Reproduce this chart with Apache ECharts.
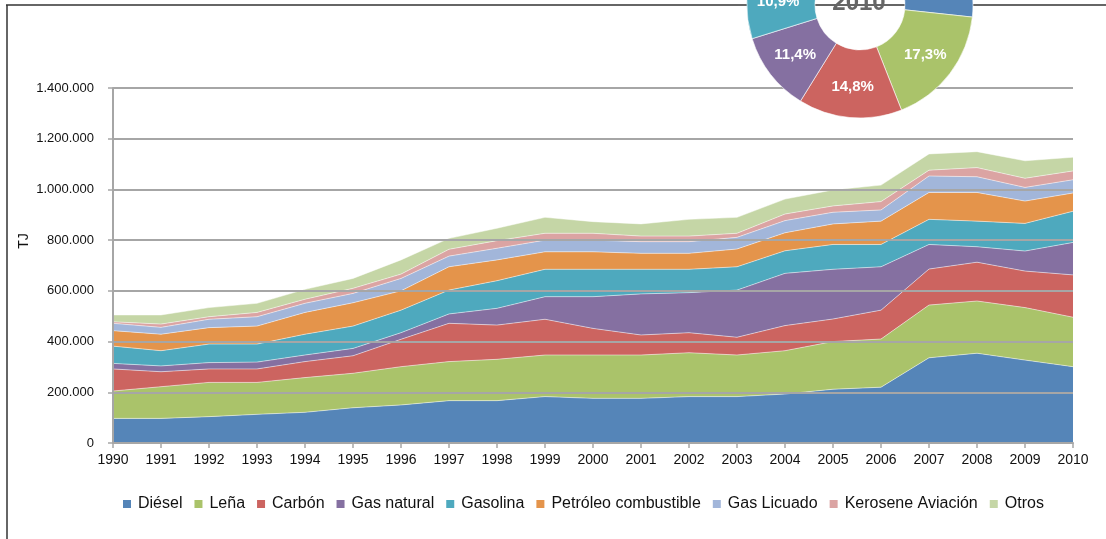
<!DOCTYPE html>
<html>
<head>
<meta charset="utf-8">
<script src="https://cdn.jsdelivr.net/npm/echarts@6/dist/echarts.min.js"></script>
<style>
    html, body { margin: 0; padding: 0; background: #fff; }
    #chart { width: 1106px; height: 539px; }
</style>
</head>
<body>
<div id="chart"></div>
<script>
// consumo de energia por fuente, TJ
var years = ['1990', '1991', '1992', '1993', '1994', '1995', '1996', '1997', '1998', '1999', '2000',
    '2001', '2002', '2003', '2004', '2005', '2006', '2007', '2008', '2009', '2010'];

var diesel = [97000, 97000, 104000, 113000, 121000, 139000, 150000, 167000, 167000, 183000, 176000,
    176000, 183000, 183000, 193000, 212000, 220000, 336000, 354000, 327000, 301000];
var lena = [108000, 125000, 135000, 126000, 137000, 136000, 151000, 154000, 163000, 164000, 171000,
    171000, 173000, 164000, 171000, 188000, 190000, 208000, 206000, 207000, 195000];
var carbon = [87000, 59000, 53000, 53000, 63000, 69000, 108000, 151000, 135000, 141000, 105000,
    79000, 79000, 70000, 99000, 89000, 114000, 142000, 153000, 144000, 167000];
var gasNatural = [22000, 23000, 25000, 27000, 26000, 29000, 26000, 37000, 66000, 89000, 125000,
    162000, 158000, 186000, 206000, 196000, 171000, 97000, 61000, 79000, 128000];
var gasolina = [68000, 60000, 73000, 71000, 82000, 88000, 89000, 94000, 109000, 108000, 108000,
    97000, 92000, 92000, 89000, 98000, 88000, 99000, 101000, 109000, 123000];
var petroleo = [61000, 65000, 65000, 71000, 86000, 92000, 76000, 92000, 82000, 69000, 69000,
    63000, 63000, 70000, 71000, 81000, 92000, 106000, 113000, 88000, 72000];
var gasLicuado = [29000, 27000, 33000, 37000, 36000, 37000, 49000, 42000, 46000, 46000, 46000,
    46000, 46000, 46000, 48000, 46000, 44000, 65000, 62000, 54000, 52000];
var kerosene = [6000, 13000, 10000, 17000, 16000, 20000, 17000, 27000, 30000, 27000, 27000,
    22000, 22000, 16000, 26000, 25000, 33000, 23000, 36000, 36000, 35000];
var otros = [27000, 36000, 36000, 36000, 39000, 39000, 56000, 43000, 49000, 63000, 46000,
    48000, 66000, 63000, 59000, 63000, 65000, 64000, 63000, 69000, 54000];

var names = ['Diésel', 'Leña', 'Carbón', 'Gas natural', 'Gasolina', 'Petróleo combustible',
    'Gas Licuado', 'Kerosene Aviación', 'Otros'];
var colors = ['#5585b8', '#aac36a', '#cc6460', '#8570a1', '#4ea9be', '#e4944b',
    '#a2b6da', '#dba4a3', '#c5d6a6'];
var seriesData = [diesel, lena, carbon, gasNatural, gasolina, petroleo, gasLicuado, kerosene, otros];
var pieYear = '2010';

var axisFont = 'Liberation Sans, Arial, sans-serif';

var formatMiles = function (v) {
    return String(v).replace(/\B(?=(\d{3})+(?!\d))/g, '.');
};

var areaSeries = [];
for (var i = 0; i < names.length; i++) {
    areaSeries.push({
        name: names[i],
        type: 'line',
        stack: 'total',
        z: 1,
        data: seriesData[i],
        symbol: 'none',
        itemStyle: {color: colors[i]},
        lineStyle: {width: 0.7, color: 'rgba(255,255,255,0.7)'},
        areaStyle: {color: colors[i], opacity: 1},
        emphasis: {disabled: true}
    });
}

var idx = years.indexOf(pieYear);
var pieData = [];
var pieTotal = 0;
for (var j = 0; j < names.length; j++) {
    pieData.push({name: names[j], value: seriesData[j][idx], itemStyle: {color: colors[j]}});
    pieTotal += seriesData[j][idx];
}

var legendData = [];
for (var k = 0; k < names.length; k++) {
    legendData.push({name: names[k], itemStyle: {color: colors[k]}});
}

var chart = echarts.init(document.getElementById('chart'), null, {renderer: 'canvas'});
var option = {
    animation: false,
    backgroundColor: '#fff',
    grid: {left: 113, right: 33, top: 88, bottom: 96, containLabel: false},
    legend: {
        data: legendData,
        left: 118,
        top: 491,
        icon: 'rect',
        itemWidth: 8,
        itemHeight: 8,
        itemGap: 12,
        selectedMode: false,
        textStyle: {fontFamily: axisFont, fontSize: 16, color: '#111', padding: [0, 0, 0, 2]}
    },
    xAxis: [{
        type: 'category',
        boundaryGap: false,
        data: years,
        axisLine: {lineStyle: {color: '#a6a6a6', width: 2}},
        axisTick: {show: true, length: 5, interval: 0, lineStyle: {color: '#a6a6a6', width: 1.5}},
        axisLabel: {interval: 0, margin: 10, color: '#111', fontFamily: axisFont, fontSize: 14},
        splitLine: {show: false},
        z: 5
    }],
    yAxis: [{
        type: 'value',
        min: 0,
        max: 1400000,
        interval: 200000,
        axisLine: {show: true, lineStyle: {color: '#a6a6a6', width: 2}},
        axisTick: {show: true, length: 5, lineStyle: {color: '#a6a6a6', width: 1.5}},
        axisLabel: {margin: 19, color: '#111', fontFamily: axisFont, fontSize: 13, formatter: formatMiles},
        splitLine: {lineStyle: {color: '#a6a6a6', width: 2}},
        z: 5
    }],
    graphic: [
        {type: 'line', z: 0, shape: {x1: 6, y1: 5, x2: 1106, y2: 5}, style: {stroke: '#333', lineWidth: 1.5}},
        {type: 'line', z: 0, shape: {x1: 7, y1: 5, x2: 7, y2: 539}, style: {stroke: '#333', lineWidth: 1.5}},
        {type: 'text', z: 100, x: 24, y: 241, rotation: Math.PI / 2,
            style: {text: 'TJ', fill: '#111', font: '14px ' + axisFont, align: 'center', verticalAlign: 'middle'}},
        {type: 'text', z: 100, x: 859, y: 3,
            style: {text: pieYear, fill: '#666', font: 'bold 24px ' + axisFont, align: 'center', verticalAlign: 'middle'}}
    ],
    series: areaSeries.concat([{
        name: pieYear,
        type: 'pie',
        z: 10,
        center: [860, 5],
        radius: [45, 113],
        startAngle: 90,
        clockwise: true,
        silent: true,
        data: pieData,
        itemStyle: {borderColor: '#fff', borderWidth: 0.6},
        label: {
            show: true,
            position: 'inside',
            color: '#fff',
            fontWeight: 'bold',
            fontFamily: axisFont,
            fontSize: 15,
            formatter: function (p) {
                return (p.value / pieTotal * 100).toFixed(1).replace('.', ',') + '%';
            }
        },
        labelLine: {show: false}
    }])
};
chart.setOption(option);
</script>
</body>
</html>
